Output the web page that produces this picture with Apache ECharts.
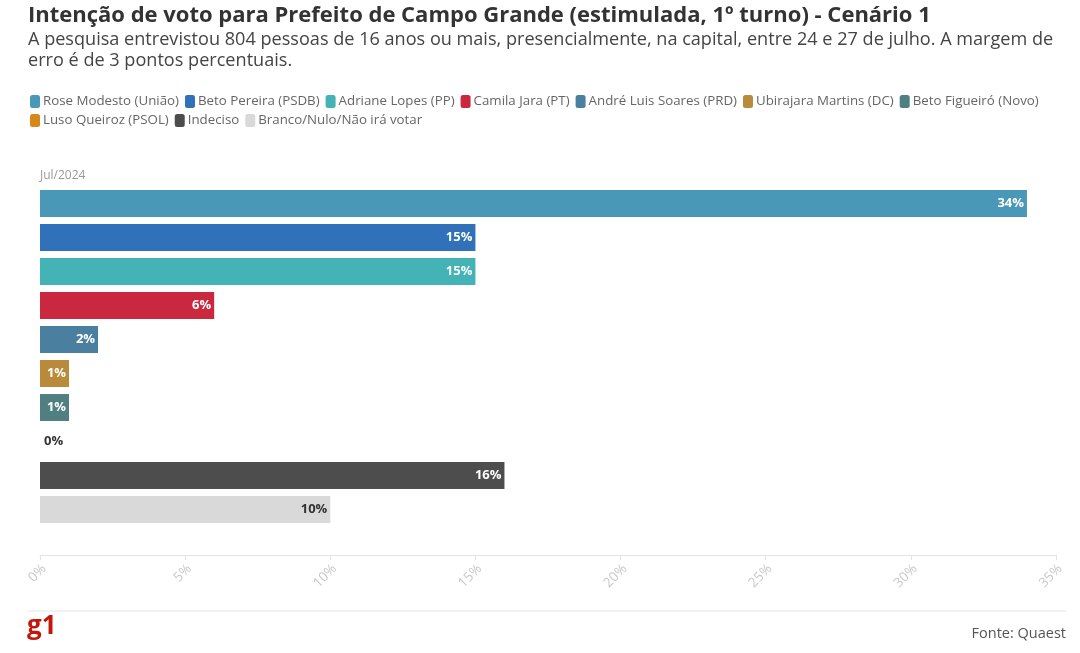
<!DOCTYPE html>
<html lang="pt-BR">
<head>
    <meta charset="UTF-8">
    <title>Campo Grande - Cenário 1</title>
    <script src="https://cdn.jsdelivr.net/npm/echarts@6/dist/echarts.min.js"></script>
    <style>
        html, body { margin: 0; padding: 0; background: #fff; }
        #chart { width: 1080px; height: 653px; }
    </style>
</head>
<body>
<div id="chart"></div>
<script>
    // dados da pesquisa (Quaest, jul/2024)
    var categorias = ['Jul/2024'];
    var candidatos = ['Rose Modesto (União)', 'Beto Pereira (PSDB)', 'Adriane Lopes (PP)', 'Camila Jara (PT)',
        'André Luis Soares (PRD)', 'Ubirajara Martins (DC)', 'Beto Figueiró (Novo)', 'Luso Queiroz (PSOL)',
        'Indeciso', 'Branco/Nulo/Não irá votar'];
    var valores = [34, 15, 15, 6, 2, 1, 1, 0, 16, 10];
    var cores = ['#4a98b7', '#3071b9', '#44b3b5', '#c9283f', '#4a7fa0', '#b98a39', '#4f7f80', '#d6891a',
        '#4d4d4d', '#d9d9d9'];
    var ticksX = [0, 5, 10, 15, 20, 25, 30, 35];

    var fonte = '"Open Sans", "Noto Sans", sans-serif';

    // uma série por candidato, todas na mesma categoria
    var series = [];
    for (var i = 0; i < candidatos.length; i++) {
        var claro = cores[i] === '#d9d9d9';
        var zero = valores[i] === 0;
        series.push({
            name: candidatos[i],
            type: 'bar',
            data: [valores[i]],
            barWidth: 27,
            barGap: '26%',
            itemStyle: {color: cores[i]},
            label: {
                show: true,
                position: zero ? 'right' : 'insideRight',
                distance: zero ? 4 : 3,
                formatter: '{c}%',
                color: (claro || zero) ? '#333' : '#fff',
                fontFamily: fonte,
                fontWeight: 'bold',
                fontSize: 13
            }
        });
    }

    var chart = echarts.init(document.getElementById('chart'));
    chart.setOption({
        animation: false,
        textStyle: {fontFamily: fonte},
        title: {
            text: 'Intenção de voto para Prefeito de Campo Grande (estimulada, 1º turno) - Cenário 1',
            subtext: 'A pesquisa entrevistou 804 pessoas de 16 anos ou mais, presencialmente, na capital, entre 24 e 27 de julho. A margem de\nerro é de 3 pontos percentuais.',
            left: 23,
            top: 0,
            itemGap: 2,
            textStyle: {fontFamily: fonte, fontSize: 22, fontWeight: 'bold', color: '#333'},
            subtextStyle: {fontFamily: fonte, fontSize: 18.1, color: '#444', lineHeight: 21}
        },
        legend: {
            left: 25,
            top: 90,
            width: 1040,
            itemWidth: 10,
            itemHeight: 13,
            itemGap: 6,
            icon: 'roundRect',
            textStyle: {fontFamily: fonte, fontSize: 13.3, color: '#666', padding: [0, 0, 0, -2]},
            data: candidatos
        },
        grid: {left: 40, right: 24, top: 158, bottom: 98, containLabel: false},
        xAxis: {
            type: 'value',
            min: 0,
            max: 35,
            interval: 5,
            axisLine: {show: true, lineStyle: {color: '#e3e3e3'}},
            axisTick: {show: true, length: 5, lineStyle: {color: '#e3e3e3'}},
            splitLine: {show: false},
            axisLabel: {
                rotate: 45,
                color: '#c8c8c8',
                fontSize: 13.5,
                margin: 16,
                padding: [0, -6, 0, 0],
                customValues: ticksX,
                formatter: '{value}%'
            }
        },
        yAxis: {
            type: 'category',
            data: categorias,
            axisLine: {show: false},
            axisTick: {show: false},
            axisLabel: {show: false}
        },
        graphic: [
            {
                type: 'text', left: 40, top: 170,
                style: {text: categorias[0], fill: '#999', fontSize: 12, fontFamily: fonte}
            },
            {
                type: 'line', shape: {x1: 28, y1: 611, x2: 1066, y2: 611},
                style: {stroke: '#e6e6e6', lineWidth: 1}
            },
            {
                type: 'text', left: 27, top: 614,
                style: {text: 'g1', fill: '#c4170c', fontSize: 26, fontWeight: 'bold', fontFamily: '"Open Sans", sans-serif'}
            },
            {
                type: 'text', right: 14, top: 626,
                style: {text: 'Fonte: Quaest', fill: '#555', fontSize: 14.5, fontFamily: fonte}
            }
        ],
        series: series
    });
</script>
</body>
</html>
